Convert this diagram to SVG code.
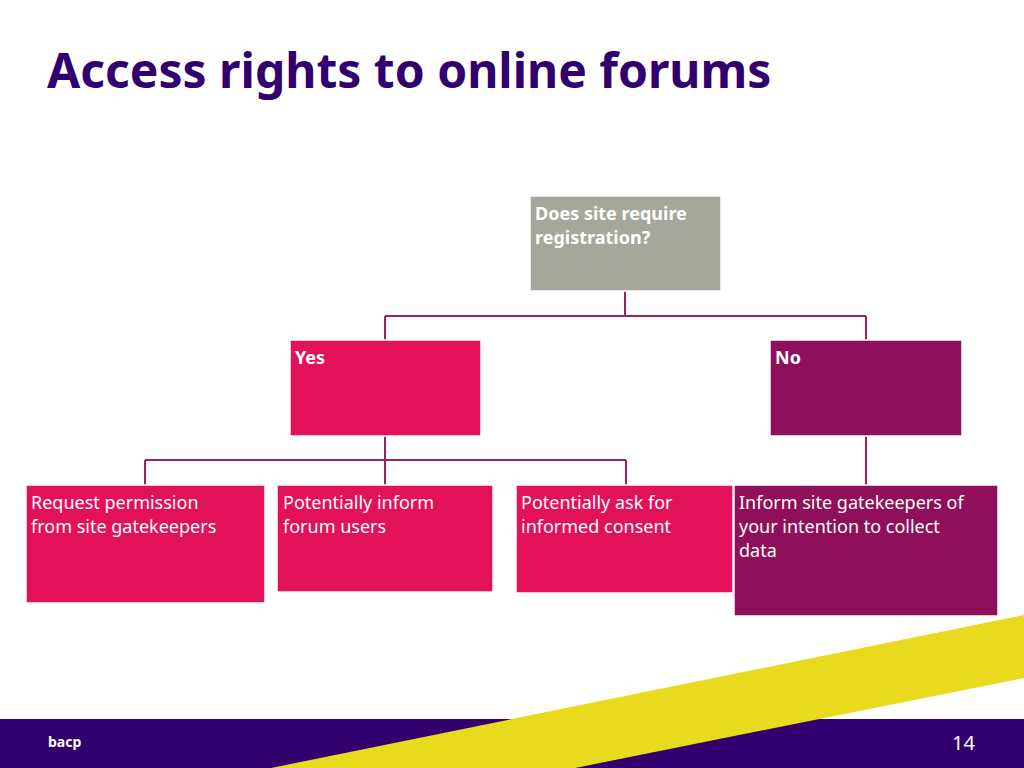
<svg xmlns="http://www.w3.org/2000/svg" width="1024" height="768" viewBox="0 0 1024 768">
<style>
text{font-family:"Noto Sans","Open Sans","DejaVu Sans",sans-serif;fill:#fff;font-size:18px}
.b{font-weight:bold}
.box{stroke:#fff;stroke-width:1.5}
.c{stroke:#a3205f;stroke-width:2;fill:none}
</style>
<rect width="1024" height="768" fill="#fff"/>
<text x="47" y="88" class="b" style="font-size:48px;fill:#32006e">Access rights to online forums</text>
<rect x="0" y="719" width="1024" height="49" fill="#32006e"/>
<polygon points="271,768 1024,615 1024,678 575,768" fill="#e9da1e"/>
<text x="48" y="747" class="b" style="font-size:14px">bacp</text>
<text x="952" y="750" style="font-size:20px">14</text>
<g id="connectors">
<path class="c" d="M625,291V316M385,316H866M385,316V340M866,316V340M385,436V460M145,460H626M145,460V485M385,460V485M626,460V485M866,436V485"/>
</g>
<g id="q"><rect class="box" x="530" y="196" width="191" height="95" fill="#a5a79c"/><text class="b" x="535" y="220">Does site require</text><text class="b" x="535" y="244">registration?</text></g>
<g id="yes"><rect class="box" x="290" y="340" width="191" height="96" fill="#e3105a"/><text class="b" x="295" y="364">Yes</text></g>
<g id="no"><rect class="box" x="770" y="340" width="192" height="96" fill="#900f5a"/><text class="b" x="775" y="364">No</text></g>
<g id="n1"><rect class="box" x="26" y="485" width="239" height="118" fill="#e3105a"/><text x="31" y="509">Request permission</text><text x="31" y="533">from site gatekeepers</text></g>
<g id="n2"><rect class="box" x="277" y="485" width="216" height="107" fill="#e3105a"/><text x="283" y="509">Potentially inform</text><text x="283" y="533">forum users</text></g>
<g id="n3"><rect class="box" x="516" y="485" width="217" height="108" fill="#e3105a"/><text x="521" y="509">Potentially ask for</text><text x="521" y="533">informed consent</text></g>
<g id="n4"><rect class="box" x="734" y="485" width="264" height="131" fill="#900f5a"/><text x="739" y="509">Inform site gatekeepers of</text><text x="739" y="533">your intention to collect</text><text x="739" y="557">data</text></g>
</svg>
